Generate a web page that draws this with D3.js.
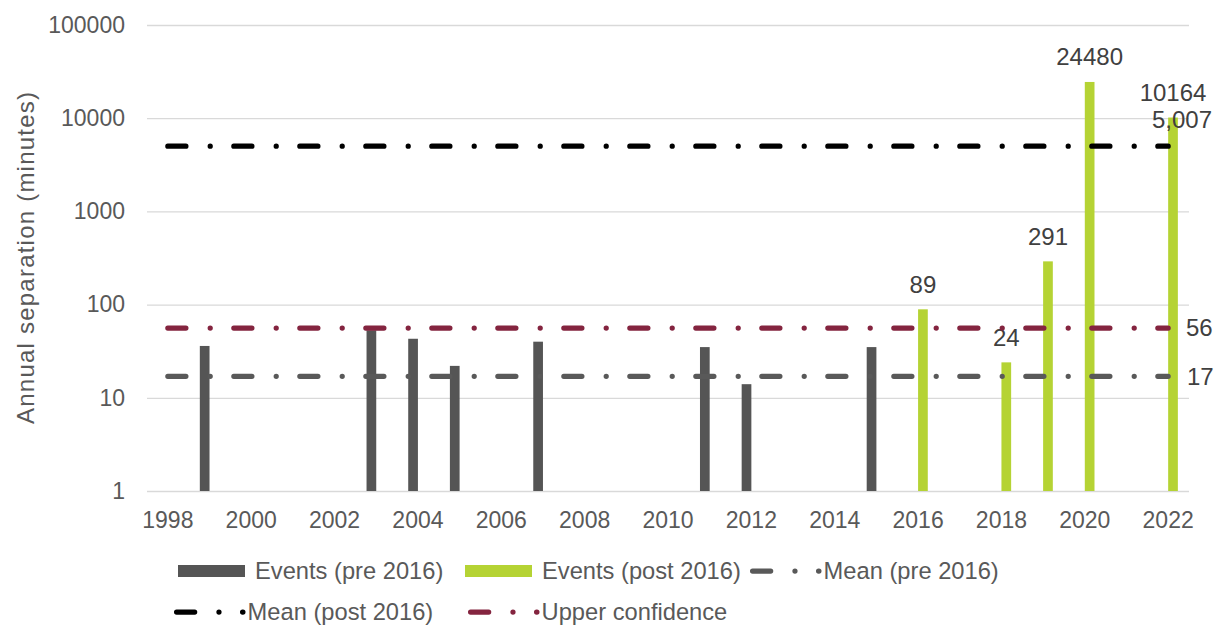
<!DOCTYPE html>
<html>
<head>
<meta charset="utf-8">
<script src="https://cdn.jsdelivr.net/npm/d3@7"></script>
<style>
  html, body { margin: 0; padding: 0; background: #fff; }
  svg { display: block; font-family: "Liberation Sans", Arial, sans-serif; }
</style>
</head>
<body>
<svg id="chart" width="1214" height="626"></svg>
<script>
// Annual separation per year, split into events before and after 2016
const years = [1998, 1999, 2000, 2001, 2002, 2003, 2004, 2005, 2006, 2007, 2008, 2009,
  2010, 2011, 2012, 2013, 2014, 2015, 2016, 2017, 2018, 2019, 2020, 2021, 2022];
const eventsPre = [null, 36, null, null, null, 53, 43, 22, null, 40, null, null,
  null, 35, 14, null, null, 35, null, null, null, null, null, null, null];
const eventsPost = [null, null, null, null, null, null, null, null, null, null, null, null,
  null, null, null, null, null, null, 89, null, 24, 291, 24480, null, 10164];
const meanPre = 17;
const meanPost = 5007;
const upperConfidence = 56;
const yTicks = [1, 10, 100, 1000, 10000, 100000];
const xTickYears = [1998, 2000, 2002, 2004, 2006, 2008, 2010, 2012, 2014, 2016, 2018, 2020, 2022];

const colors = {
  pre: "#555555",
  post: "#b5d334",
  meanPre: "#595959",
  meanPost: "#000000",
  upper: "#84243f",
  grid: "#d9d9d9",
  tick: "#595959",
  label: "#404040"
};

const svg = d3.select("#chart");
const plot = { left: 147, right: 1189, top: 25, bottom: 491 };

const x = d3.scaleBand().domain(years).range([plot.left, plot.right]).padding(0);
const half = 9.7;
const xSub = d3.scaleBand().domain(["pre", "post"])
  .range([x.bandwidth() / 2 - half, x.bandwidth() / 2 + half]).padding(0);
const y = d3.scaleLog().domain([1, 100000]).range([plot.bottom, plot.top]);
const cx = d => x(d) + x.bandwidth() / 2;

// gridlines + y tick labels
const yAxis = svg.append("g")
  .attr("transform", `translate(${plot.left},0)`)
  .call(d3.axisLeft(y).tickValues(yTicks).tickFormat(d3.format("d"))
    .tickSize(-(plot.right - plot.left)).tickPadding(22));
yAxis.select(".domain").remove();
yAxis.selectAll(".tick line").attr("stroke", colors.grid).attr("stroke-width", 1.3);
yAxis.selectAll(".tick text").attr("fill", colors.tick)
  .style("font-size", "23px").style("font-family", "'Liberation Sans', Arial, sans-serif");

// x tick labels
const xAxis = svg.append("g")
  .attr("transform", `translate(0,${plot.bottom})`)
  .call(d3.axisBottom(x).tickValues(xTickYears).tickSize(0).tickPadding(20.5));
xAxis.select(".domain").remove();
xAxis.selectAll(".tick text").attr("fill", colors.tick)
  .style("font-size", "23px").style("font-family", "'Liberation Sans', Arial, sans-serif");

// y axis title
svg.append("text")
  .attr("transform", `translate(34,${(plot.top + plot.bottom) / 2}) rotate(-90)`)
  .attr("text-anchor", "middle")
  .attr("fill", colors.tick)
  .style("font-size", "24px")
  .attr("textLength", 332)
  .attr("lengthAdjust", "spacing")
  .text("Annual separation (minutes)");

// bars
const preData = years.map((yr, i) => ({ yr, v: eventsPre[i] })).filter(d => d.v != null);
const postData = years.map((yr, i) => ({ yr, v: eventsPost[i] })).filter(d => d.v != null);

svg.append("g").selectAll("rect").data(preData).join("rect")
  .attr("x", d => x(d.yr) + xSub("pre"))
  .attr("width", xSub.bandwidth())
  .attr("y", d => y(d.v))
  .attr("height", d => y(1) - y(d.v))
  .attr("fill", colors.pre);

svg.append("g").selectAll("rect").data(postData).join("rect")
  .attr("x", d => x(d.yr) + xSub("post"))
  .attr("width", xSub.bandwidth())
  .attr("y", d => y(d.v))
  .attr("height", d => y(1) - y(d.v))
  .attr("fill", colors.post);

// value labels on post-2016 bars
svg.append("g").selectAll("text").data(postData).join("text")
  .attr("x", d => x(d.yr) + xSub("post") + xSub.bandwidth() / 2)
  .attr("y", d => y(d.v) - 16.5)
  .attr("text-anchor", "middle")
  .attr("fill", colors.label)
  .style("font-size", "24px")
  .text(d => d.v);

// dash-dot reference lines
const lineW = 5.25;
const dashPattern = "18.05 24.325 0 23.625";
const x0 = cx(years[0]), x1 = cx(years[years.length - 1]);
const refLines = [
  { v: meanPre, color: colors.meanPre },
  { v: meanPost, color: colors.meanPost },
  { v: upperConfidence, color: colors.upper }
];
const lineGen = d3.line();
svg.append("g").selectAll("path").data(refLines).join("path")
  .attr("d", d => lineGen([[x0, y(d.v)], [x1, y(d.v)]]))
  .attr("fill", "none")
  .attr("stroke", d => d.color)
  .attr("stroke-width", lineW)
  .attr("stroke-linecap", "round")
  .attr("stroke-dasharray", dashPattern);

// line value labels
svg.append("text").attr("x", 1186).attr("y", y(upperConfidence)).attr("dy", "0.35em")
  .attr("fill", colors.label).style("font-size", "24px").text(upperConfidence);
svg.append("text").attr("x", 1187).attr("y", y(meanPre)).attr("dy", "0.35em")
  .attr("fill", colors.label).style("font-size", "24px").text(meanPre);
svg.append("text").attr("x", 1182).attr("y", y(meanPost) - 18).attr("text-anchor", "middle")
  .attr("fill", colors.label).style("font-size", "24px").text(d3.format(",")(meanPost));

// legend
const legend = svg.append("g").style("font-size", "23.7px");
const legendItems = [
  { label: "Events (pre 2016)", type: "bar", color: colors.pre, lx: 178, ly: 571 },
  { label: "Events (post 2016)", type: "bar", color: colors.post, lx: 465, ly: 571 },
  { label: "Mean (pre 2016)", type: "line", color: colors.meanPre, lx: 750, ly: 571 },
  { label: "Mean (post 2016)", type: "line", color: colors.meanPost, lx: 174, ly: 612 },
  { label: "Upper confidence", type: "line", color: colors.upper, lx: 468, ly: 612 }
];
legendItems.forEach(it => {
  if (it.type === "bar") {
    legend.append("rect").attr("x", it.lx).attr("y", it.ly - 6)
      .attr("width", 67).attr("height", 12).attr("fill", it.color);
    legend.append("text").attr("x", it.lx + 77).attr("y", it.ly).attr("dy", "0.35em")
      .attr("fill", colors.tick).text(it.label);
  } else {
    const s = it.lx + 2.6;
    legend.append("path")
      .attr("d", lineGen([[s, it.ly], [s + 66.3, it.ly]]))
      .attr("fill", "none").attr("stroke", it.color).attr("stroke-width", lineW)
      .attr("stroke-linecap", "round").attr("stroke-dasharray", dashPattern);
    legend.append("text").attr("x", s + 71).attr("y", it.ly).attr("dy", "0.35em")
      .attr("fill", colors.tick).text(it.label);
  }
});
</script>
</body>
</html>
